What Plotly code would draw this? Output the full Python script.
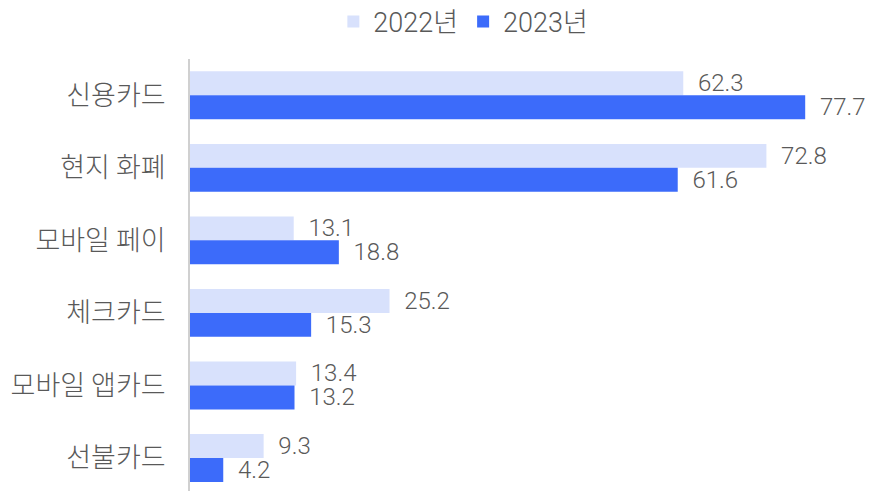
import plotly.graph_objects as go

categories = ["신용카드", "현지 화폐", "모바일 페이", "체크카드", "모바일 앱카드", "선불카드"]
series_names = ["2022년", "2023년"]
values_2022 = [62.3, 72.8, 13.1, 25.2, 13.4, 9.3]
values_2023 = [77.7, 61.6, 18.8, 15.3, 13.2, 4.2]
colors = ["#d8e1fc", "#3c6bfa"]

FONT = "Roboto, 'Noto Sans CJK KR', sans-serif"
TEXT_COLOR = "#595959"

fig = go.Figure()
for name, vals, col in zip(series_names, [values_2022, values_2023], colors):
    fig.add_trace(go.Bar(
        y=categories, x=vals, name=name, orientation="h",
        marker=dict(color=col, line=dict(width=0)),
        text=vals, texttemplate="\u00a0\u00a0%{x:.1f}",
        textposition="outside", constraintext="none", cliponaxis=False,
        outsidetextfont=dict(family=FONT, size=24, color=TEXT_COLOR, weight=300),
        hoverinfo="skip",
    ))

fig.update_layout(
    width=871, height=491,
    margin=dict(l=190, r=8, t=59, b=0),
    paper_bgcolor="white", plot_bgcolor="white",
    barmode="group", bargap=0.34, bargroupgap=0,
    font=dict(family=FONT, color=TEXT_COLOR),
    showlegend=True,
    legend=dict(
        orientation="h", x=0.532, xref="container", xanchor="center",
        y=1 - 22 / 491, yref="container", yanchor="middle",
        font=dict(family=FONT, size=27, color=TEXT_COLOR, weight=300),
        itemwidth=30, traceorder="normal",
    ),
    xaxis=dict(range=[0, 85], visible=False, showgrid=False, zeroline=False),
    yaxis=dict(
        categoryorder="array", categoryarray=categories,
        range=[5.455, -0.5],
        showline=True, linecolor="#d0d0d0", linewidth=2,
        showgrid=False, zeroline=False, ticks="",
        ticklabelstandoff=17,
        tickfont=dict(family="'Noto Sans CJK KR', sans-serif", size=27, color=TEXT_COLOR, weight=300),
    ),
)

fig.write_html("out.html")
